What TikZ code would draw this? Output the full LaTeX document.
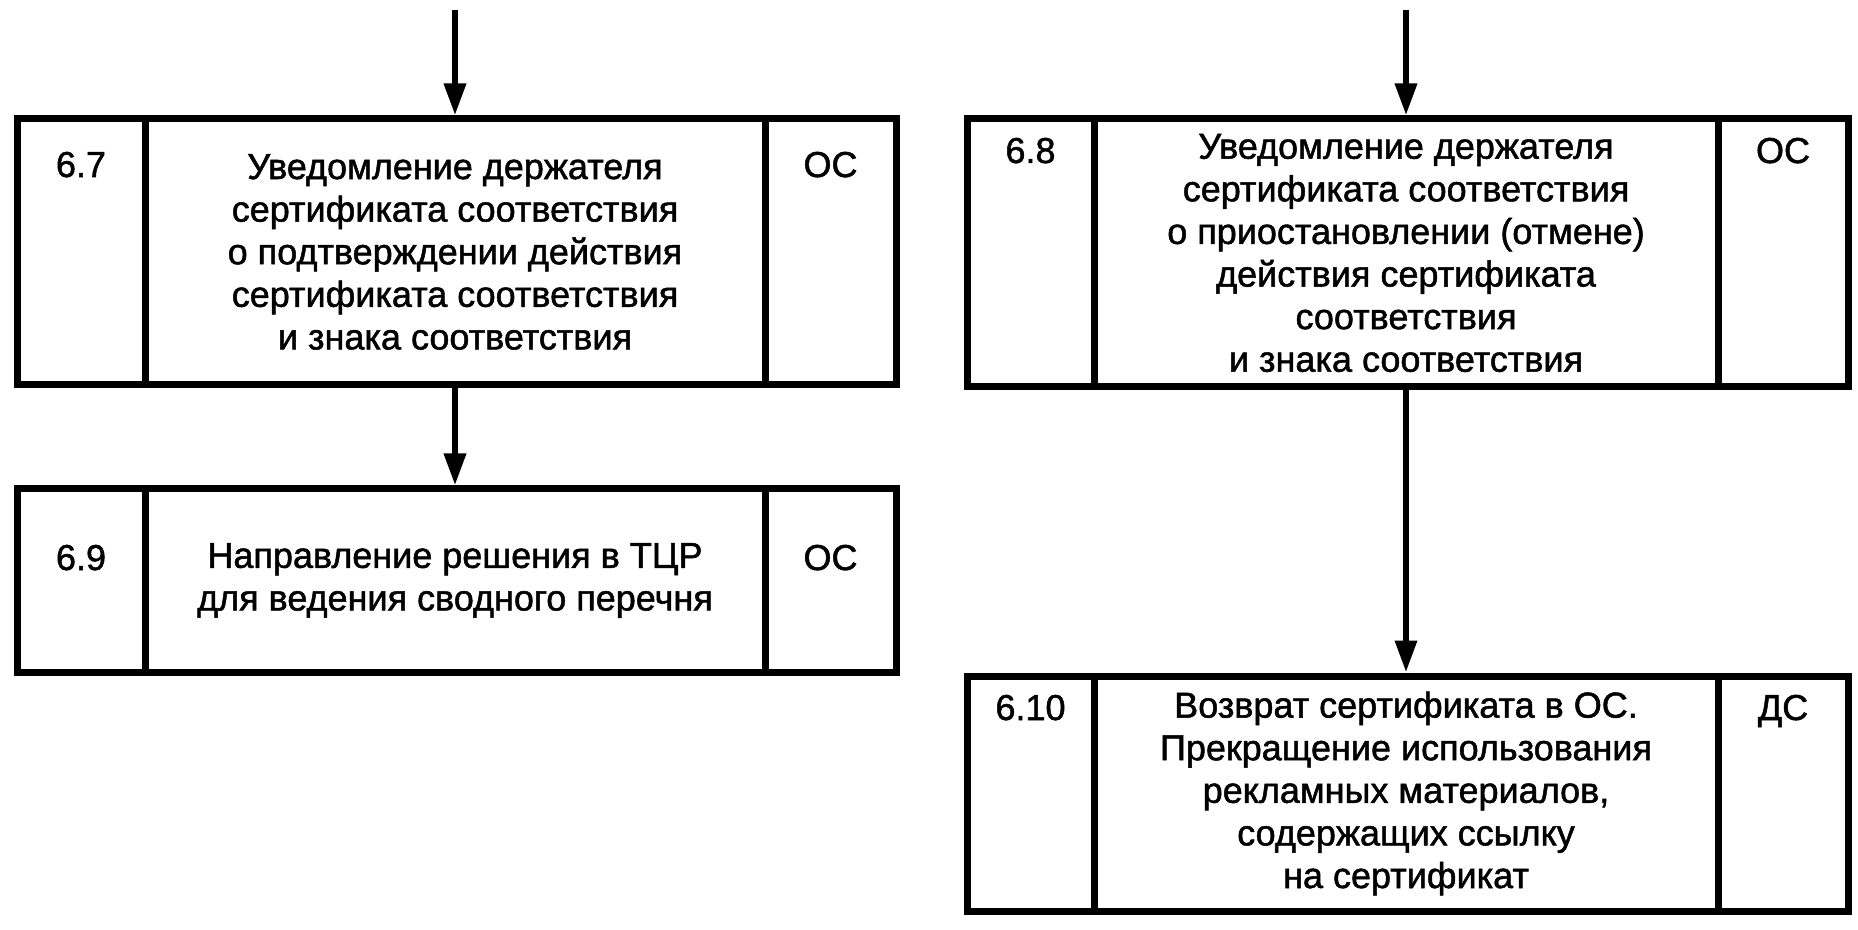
\documentclass[tikz,border=0pt]{standalone}
\usepackage{fontspec}
\setmainfont{Liberation Sans}[BoldFont={Liberation Sans},BoldFeatures={FakeBold=1.4}]
\usetikzlibrary{arrows.meta}
\tikzset{
  cell/.style={draw,line width=3.5pt,inner sep=0pt,minimum height=#1},
  txt/.style={font=\fontsize{18}{21.3}\selectfont\bfseries,align=center,inner sep=0pt},
  tag/.style={font=\fontsize{18}{21.3}\selectfont\bfseries,anchor=base,inner sep=0pt},
  flow/.style={line width=3.2pt,-{Triangle[length=16pt,width=10.5pt]}}
}
\begin{document}
\begin{tikzpicture}[x=0.5pt,y=-0.5pt]
			\useasboundingbox (0,0) rectangle (1858,930);
			\path
			(455,10) coordinate (in67)
			(1406,10) coordinate (in68)
			;
			% left column
			\node[cell=133pt,minimum width=64pt] (n67) at (81,252) {};
			\node[cell=133pt,minimum width=310pt,txt] (b67) at (455,252) {Уведомление держателя\\сертификата соответствия\\о подтверждении действия\\сертификата соответствия\\и знака соответствия};
			\node[cell=133pt,minimum width=65.5pt] (c67) at (830.5,252) {};
			\node[cell=91.5pt,minimum width=64pt] (n69) at (81,580.5) {};
			\node[cell=91.5pt,minimum width=310pt,txt] (b69) at (455,580.5) {Направление решения в ТЦР\\для ведения сводного перечня};
			\node[cell=91.5pt,minimum width=65.5pt] (c69) at (830.5,580.5) {};
			% right column
			\node[cell=134pt,minimum width=63.5pt] (n68) at (1030.5,253) {};
			\node[cell=134pt,minimum width=312pt,txt] (b68) at (1406,253) {Уведомление держателя\\сертификата соответствия\\о приостановлении (отмене)\\действия сертификата\\соответствия\\и знака соответствия};
			\node[cell=134pt,minimum width=65pt] (c68) at (1783,253) {};
			\node[cell=117.5pt,minimum width=63.5pt] (n610) at (1030.5,793.5) {};
			\node[cell=117.5pt,minimum width=312pt,txt] (b610) at (1406,793.5) {Возврат сертификата в ОС.\\Прекращение использования\\рекламных материалов,\\содержащих ссылку\\на сертификат};
			\node[cell=117.5pt,minimum width=65pt] (c610) at (1783,793.5) {};
			% numbers and executors
			\node[tag] (l67) at (81,177) {6.7};
			\node[tag] (e67) at (830.5,177) {ОС};
			\node[tag] (l69) at (81,570) {6.9};
			\node[tag] (e69) at (830.5,570) {ОС};
			\node[tag] (l68) at (1030.5,163) {6.8};
			\node[tag] (e68) at (1783,163) {ОС};
			\node[tag] (l610) at (1030.5,720) {6.10};
			\node[tag] (e610) at (1783,720) {ДС};
			\draw[flow] (in67)--(b67.north);
			\draw[flow] (b67.south)--(b69.north);
			\draw[flow] (in68)--(b68.north);
			\draw[flow] (b68.south)--(b610.north);
	\end{tikzpicture}
\end{document}
